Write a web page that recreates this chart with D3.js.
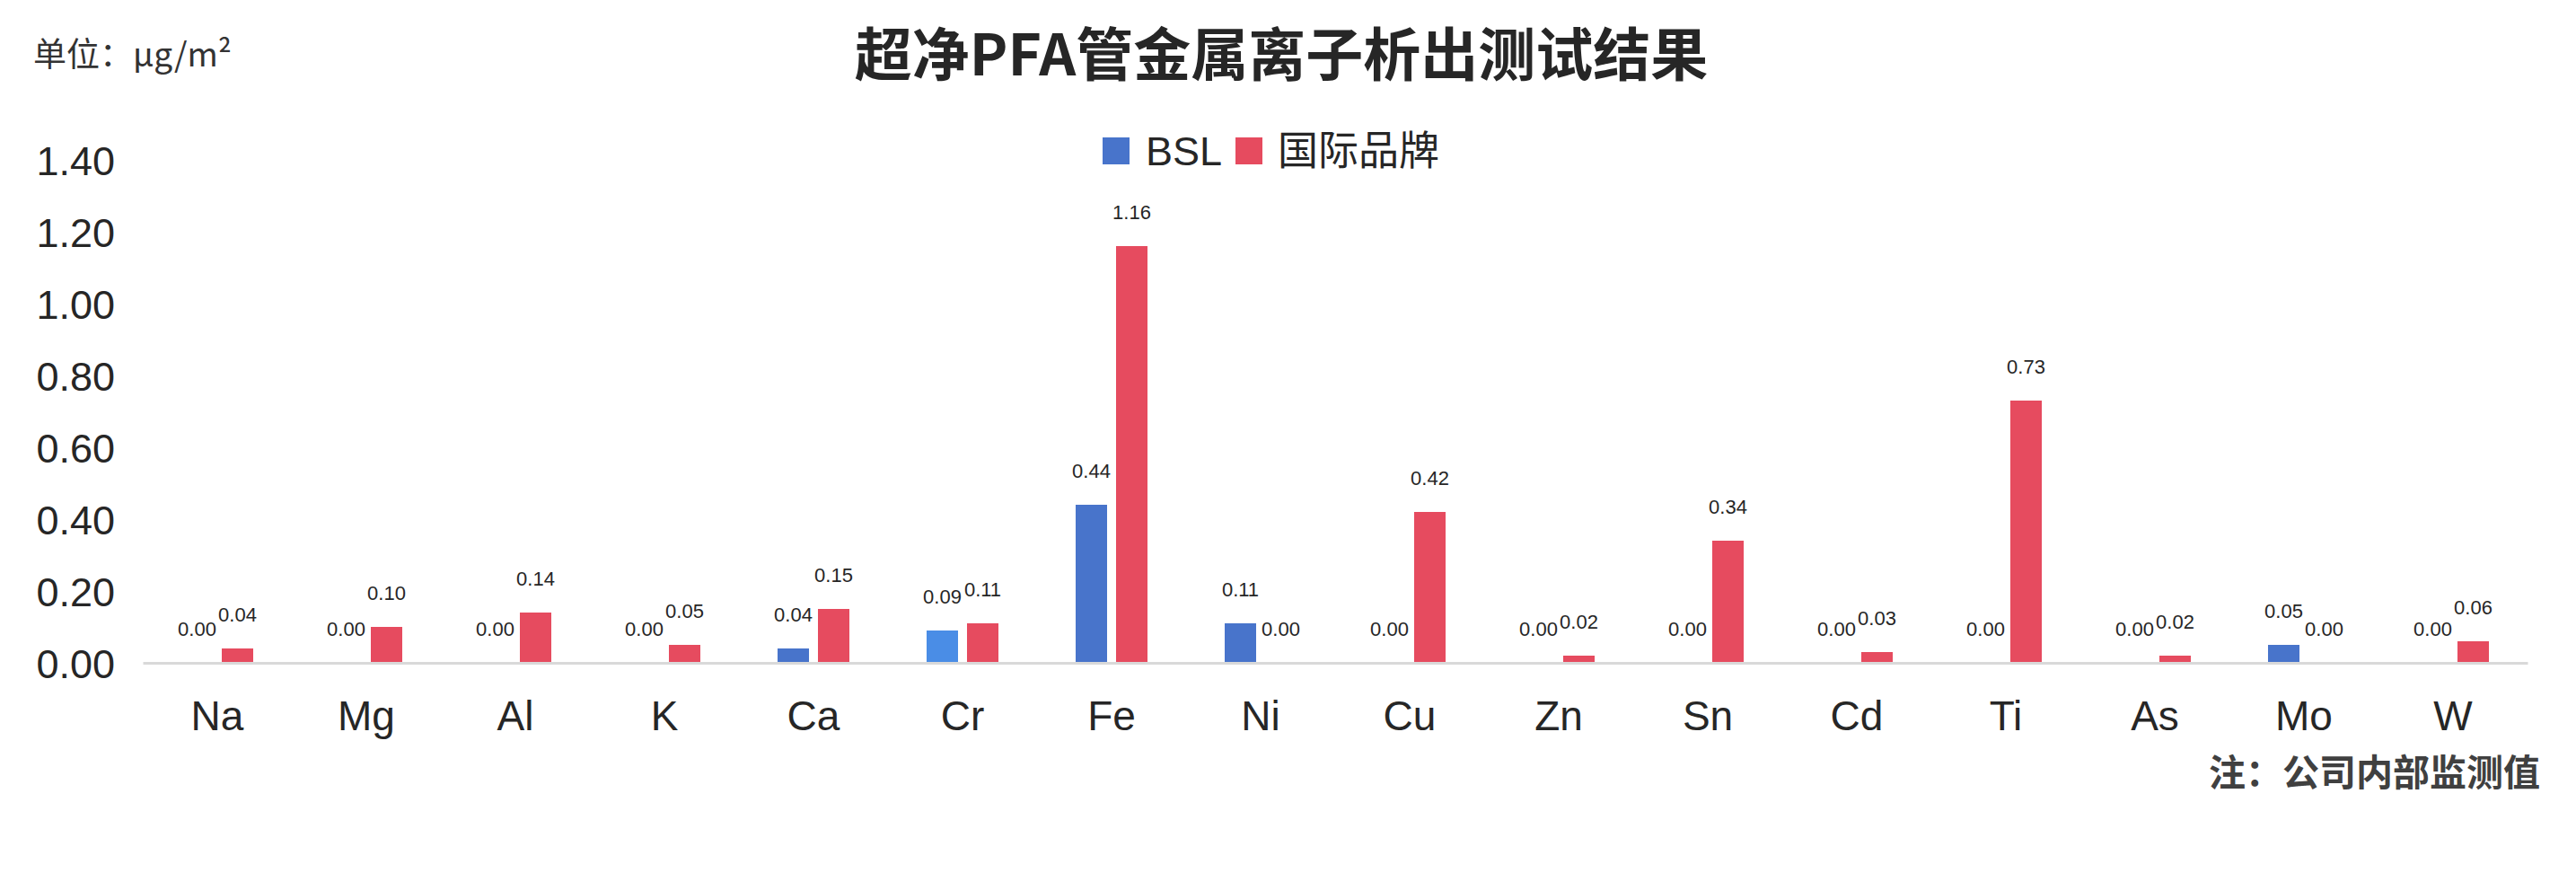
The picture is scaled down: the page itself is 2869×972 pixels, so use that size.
<!DOCTYPE html>
<html>
<head>
<meta charset="utf-8">
<script src="https://cdn.jsdelivr.net/npm/d3@7"></script>
<style>
  html, body { margin: 0; padding: 0; background: #ffffff; }
  svg { display: block; }
</style>
</head>
<body>
<div id="chart"></div>
<script>
// ---- Data ----
const categories = ["Na","Mg","Al","K","Ca","Cr","Fe","Ni","Cu","Zn","Sn","Cd","Ti","As","Mo","W"];
const seriesNames = ["BSL","国际品牌"];
const bslValues  = [0.00,0.00,0.00,0.00,0.04,0.09,0.44,0.11,0.00,0.00,0.00,0.00,0.00,0.00,0.05,0.00];
const intlValues = [0.04,0.10,0.14,0.05,0.15,0.11,1.16,0.00,0.42,0.02,0.34,0.03,0.73,0.02,0.00,0.06];
const yTickValues = [0.00,0.20,0.40,0.60,0.80,1.00,1.20,1.40];
const titleText = "超净PFA管金属离子析出测试结果";
const unitText = "单位：μg/m²";
const noteText = "注：公司内部监测值";

// ---- Style ----
const W = 2869, H = 972;
const seriesColors = ["#4874CB", "#E64B5F"];
const highlightBlue = "#4A8DE6"; // Cr BSL bar drawn in a lighter blue
const latin = "'Liberation Sans', Arial, 'Noto Sans CJK SC', sans-serif";
const cjk = "'Noto Sans CJK SC', 'Liberation Sans', sans-serif";

const svg = d3.select("#chart").append("svg")
  .attr("width", W).attr("height", H);
svg.append("rect").attr("width", W).attr("height", H).attr("fill", "#fff");

const x0 = d3.scaleBand().domain(categories).range([159, 2815]).padding(0);
const x1 = d3.scaleBand().domain(seriesNames)
  .range([x0.bandwidth()/2 - 45, x0.bandwidth()/2 + 45])
  .paddingInner(0.222).paddingOuter(0.111);
const y = d3.scaleLinear().domain([0, 1.4]).range([738, 178]);

const rows = categories.map((c, i) => ({
  cat: c,
  vals: [
    {s: seriesNames[0], v: bslValues[i], color: c === "Cr" ? highlightBlue : seriesColors[0]},
    {s: seriesNames[1], v: intlValues[i], color: seriesColors[1]}
  ]
}));

// Y axis (labels only)
const yAxis = d3.axisLeft(y).tickValues(yTickValues).tickSize(0).tickPadding(10)
  .tickFormat(d3.format(".2f"));
const gy = svg.append("g").attr("transform", "translate(138,0)").call(yAxis);
gy.select(".domain").remove();
gy.selectAll("text").attr("font-family", latin).attr("font-size", 45)
  .attr("fill", "#262626").attr("dy", "0.36em");

// Bars
const gCat = svg.append("g").selectAll("g").data(rows).join("g")
  .attr("transform", d => `translate(${x0(d.cat)},0)`);
gCat.selectAll("rect").data(d => d.vals).join("rect")
  .attr("x", d => x1(d.s))
  .attr("width", x1.bandwidth())
  .attr("y", d => y(d.v))
  .attr("height", d => y(0) - y(d.v))
  .attr("fill", d => d.color);
gCat.selectAll("text").data(d => d.vals).join("text")
  .attr("x", d => x1(d.s) + x1.bandwidth()/2)
  .attr("y", d => y(d.v) - 30)
  .attr("text-anchor", "middle")
  .attr("font-family", latin).attr("font-size", 22).attr("fill", "#262626")
  .text(d => d3.format(".2f")(d.v));

// X axis
const xAxis = d3.axisBottom(x0).tickSize(0).tickPadding(0);
const gx = svg.append("g").attr("transform", `translate(0,${y(0)})`).call(xAxis);
gx.select(".domain").attr("stroke", "#d9d9d9").attr("stroke-width", 3);
gx.selectAll("text").attr("font-family", latin).attr("font-size", 46)
  .attr("fill", "#262626").attr("y", 75).attr("dy", 0);

// Title
svg.append("text").attr("x", 1427).attr("y", 84).attr("text-anchor", "middle")
  .attr("font-family", cjk).attr("font-weight", "bold").attr("font-size", 64)
  .attr("fill", "#262626").text(titleText);

// Unit label
svg.append("text").attr("x", 37).attr("y", 74).attr("font-family", cjk)
  .attr("font-size", 37).attr("fill", "#333").text(unitText);

// Legend
const legendX = [1228, 1376];
const lg = svg.append("g").selectAll("g").data(seriesNames).join("g")
  .attr("transform", (d, i) => `translate(${legendX[i]},153)`);
lg.append("rect").attr("width", 30).attr("height", 30)
  .attr("fill", (d, i) => seriesColors[i]);
lg.append("text").attr("x", (d, i) => i === 0 ? 48 : 47).attr("y", 31)
  .attr("font-family", latin).attr("font-size", 45).attr("fill", "#262626")
  .text(d => d);

// Note
svg.append("text").attr("x", 2829).attr("y", 875).attr("text-anchor", "end")
  .attr("font-family", cjk).attr("font-weight", "bold").attr("font-size", 41)
  .attr("fill", "#404040").text(noteText);
</script>
</body>
</html>
